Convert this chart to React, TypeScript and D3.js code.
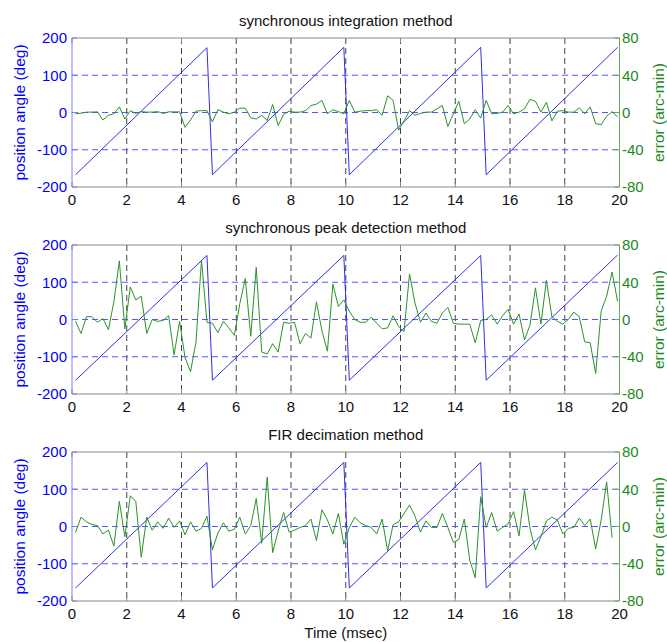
import React from "react";
import * as d3 from "d3";

const W = 667;
const H = 642;

// 100 samples per record, first and last sample time (msec)
const sampleSpan = [0.13, 19.93];

// error (arc-min), one value per sample
const errIntegration = [
  -1.4, -0.7, 0.4, 0.4, 0.7, -8, -3, -1.5, 6, -7, 2, -1, 1, 0.4, 0.4, 1, -1, 0.7, 0.7, 0.7,
  -16, -8, 1.4, 2, 2, -10, 3, 0.4, -1.4, 0.4, 4.7, 4.7, -5.7, -7, -3, -8.6, 8.6, -14, -2, 1.4,
  0.4, 0.4, 2, 7.5, 9, 13, -1.4, 3, 1, -1.4, 13, 0.4, 1.4, 2, 2, 3, -3, 18, 13, -19,
  -9, 2, -3, -1, 0.4, 0.4, 4, 7.5, -15, -1.4, 12, -12, -7, 3, -6, 13, -1.4, -1, 0.4, 7.5,
  -1.4, 0.4, 4, 14, 12, 0.4, 11, -9, 1.4, 2, 0.4, 0.4, 5, -1.4, 6, -12, -13, -4, 1, -5,
];
const errPeak = [
  -2, -15, 3, 3, -3, 1, -11, 19, 63, -10, 35, 21, 25, -15, 0, -2, -1, 4, -38, -2,
  -41, -56, -24, 64, -3, -4, -14, -2, -9, -17, 17, 44, -18, 56, -35, -37, -26, -35, -3, -4,
  -3, -26, -15, -20, 19, -12, -34, 38, 14, 21, 9, 0, -3, -3, 2.5, -4, -10, -9, 4, -7.5,
  -13, 49, 17.5, -3, 7, -2, -4, 7, 13, -4, -5, -5, -5, -25, -1, 0, 5, -5, 4, 11,
  -5, 6, -22, -6, 34, -5, 42, 3, -2, -5, 0, 8, 3, -24, -25, -58, 9, 25, 51, 19.5,
];
const errFir = [
  -6.4, 10, 5, 2, 1, -8, -4, -21, 27, -11, 33, 27, -33, 10, -4, 5, -2, 9, -1, 6,
  -9, 5, -5, -2, 11, -25, -7, 4, -5, -3, 10, -8, 1, 30, -18, 53, -28, -5, 15, -6,
  -4, -1, 1, 8, -15, 18, 7, -8, 14, -19, -1, 10, 4, 1, -1, -8, 8, -26, 2, 5,
  14, 23, 11, -6, 6, -1, -1, 14, -1, -17, -14, 8, -36, -55, 32, -1, 15, -5, -1, 3,
  16, -10, 39, -2, -25, -11, 6, 10, 7, -8, -2, -1, 9, 1, 8, -24, 7, 48, -12,
];

// position angle (deg): corners of the sawtooth
const sawTimes = [0.13, 4.93, 5.13, 9.93, 10.13, 14.93, 15.13, 19.93];
const sawIntegration = [-167, 174, -167, 175, -167, 175, -167, 175];
const sawPeak = [-163, 172, -163, 172, -163, 172, -163, 173];
const sawFir = [-165, 172, -165, 172, -165, 172, -165, 172];

const titles = [
  "synchronous integration method",
  "synchronous peak detection method",
  "FIR decimation method",
];
const xTicks = [0, 2, 4, 6, 8, 10, 12, 14, 16, 18, 20];
const gridX = [2, 4, 6, 8, 10, 12, 14, 16, 18];
const leftTicks = [200, 100, 0, -100, -200];
const gridLeft = [100, 0, -100];
const rightTicks = [80, 40, 0, -40, -80];

const panels = [
  { top: 38, title: titles[0], err: errIntegration, saw: sawIntegration },
  { top: 245, title: titles[1], err: errPeak, saw: sawPeak },
  { top: 452, title: titles[2], err: errFir, saw: sawFir },
];

const left = 72;
const right = 619.5;
const ph = 149;
const font = "'Liberation Sans', Arial, Helvetica, sans-serif";
const blue = "#0000ff";
const green = "#1b8a1b";

const x = d3.scaleLinear().domain([0, 20]).range([left, right]);
const tOf = d3.scaleLinear().domain([0, 99]).range(sampleSpan);

function Panel({ top, title, err, saw }) {
  const yL = d3.scaleLinear().domain([-200, 200]).range([top + ph, top]);
  const yR = d3.scaleLinear().domain([-80, 80]).range([top + ph, top]);
  const bottom = top + ph;

  const sawLine = d3.line<number>()
    .x((_, i) => x(sawTimes[i]))
    .y((d) => yL(d));
  const errLine = d3.line<number>()
    .x((_, i) => x(tOf(i)))
    .y((d) => yR(d));

  const mid = top + ph / 2;

  return (
    <g>
      <text x={(left + right) / 2} y={top - 12.5} textAnchor="middle" fontSize={15} fill="#111">
        {title}
      </text>

      {/* grid */}
      {gridX.map((v) => (
        <line key={"gx" + v} x1={x(v)} x2={x(v)} y1={top} y2={bottom}
          stroke="#444" strokeDasharray="6,4" strokeWidth={1} />
      ))}
      {gridLeft.map((v) => (
        <line key={"gy" + v} x1={left} x2={right} y1={yL(v)} y2={yL(v)}
          stroke="#5555ff" strokeDasharray="6,4" strokeWidth={1} />
      ))}

      {/* box */}
      <line x1={left} x2={right} y1={top} y2={top} stroke="#888" />
      <line x1={left} x2={right} y1={bottom} y2={bottom} stroke="#888" />
      <line x1={left} x2={left} y1={top} y2={bottom} stroke="#7b7bff" />
      <line x1={right} x2={right} y1={top} y2={bottom} stroke="#5fae5f" />

      {/* ticks */}
      {xTicks.map((v) => (
        <g key={"xt" + v}>
          <line x1={x(v)} x2={x(v)} y1={bottom} y2={bottom - 5} stroke="#888" />
          <line x1={x(v)} x2={x(v)} y1={top} y2={top + 5} stroke="#888" />
          <text x={x(v)} y={bottom + 17.5} textAnchor="middle" fontSize={15} fill="#111">{v}</text>
        </g>
      ))}
      {leftTicks.map((v) => (
        <g key={"lt" + v}>
          <line x1={left} x2={left + 5} y1={yL(v)} y2={yL(v)} stroke="#7b7bff" />
          <text x={67} y={yL(v)} dy="0.36em" textAnchor="end" fontSize={15} fill={blue}>{v}</text>
        </g>
      ))}
      {rightTicks.map((v) => (
        <g key={"rt" + v}>
          <line x1={right} x2={right - 5} y1={yR(v)} y2={yR(v)} stroke="#5fae5f" />
          <text x={622} y={yR(v)} dy="0.36em" textAnchor="start" fontSize={15} fill={green}>{v}</text>
        </g>
      ))}

      {/* axis labels */}
      <text transform={`translate(20,${mid}) rotate(-90)`} textAnchor="middle" dy="0.35em"
        fontSize={15.5} fill={blue}>position angle (deg)</text>
      <text transform={`translate(659,${mid}) rotate(-90)`} textAnchor="middle" dy="0.35em"
        fontSize={15.5} fill={green}>error (arc-min)</text>

      {/* data */}
      <path d={sawLine(saw) ?? ""} fill="none" stroke="#2f2fe6" strokeWidth={1} />
      <path d={errLine(err) ?? ""} fill="none" stroke="#2a922a" strokeWidth={1} />
    </g>
  );
}

export default function App() {
  return (
    <svg width={W} height={H} style={{ position: "absolute", left: 0, top: 0, background: "#fff" }}
      fontFamily={font}>
      <rect width={W} height={H} fill="#fff" />
      {panels.map((p, i) => (
        <Panel key={i} {...p} />
      ))}
      <text x={(left + right) / 2} y={638} textAnchor="middle" fontSize={15} fill="#111">
        Time (msec)
      </text>
    </svg>
  );
}
